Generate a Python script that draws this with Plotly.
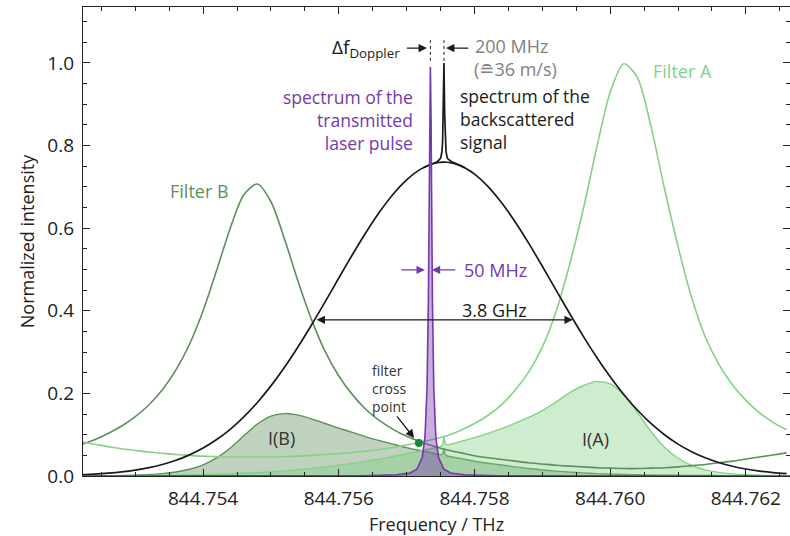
import plotly.graph_objects as go

# ---------------- data ----------------
freq = [844.7522, 844.7524, 844.7526, 844.7528, 844.7530, 844.7532, 844.7534, 844.7536, 844.7538,
        844.7540, 844.7542, 844.7544, 844.7546, 844.7548, 844.7550, 844.7552, 844.7554, 844.7556,
        844.7558, 844.7560, 844.7562, 844.7564, 844.7566, 844.7568, 844.7570, 844.7572, 844.7574,
        844.7576, 844.7578, 844.7580, 844.7582, 844.7584, 844.7586, 844.7588, 844.7590, 844.7592,
        844.7594, 844.7596, 844.7598, 844.7600, 844.7602, 844.7604, 844.7606, 844.7608, 844.7610,
        844.7612, 844.7614, 844.7616, 844.7618, 844.7620, 844.7622, 844.7624, 844.7626]

backscatter = [0.0031, 0.0047, 0.0069, 0.0100, 0.0143, 0.0201, 0.0279, 0.0380, 0.0511, 0.0676,
               0.0882, 0.1131, 0.1430, 0.1781, 0.2182, 0.2633, 0.3130, 0.3662, 0.4222, 0.4793,
               0.5357, 0.5895, 0.6390, 0.6822, 0.7171, 0.7424, 0.7567, 0.7596, 0.7509, 0.7310,
               0.7008, 0.6616, 0.6150, 0.5632, 0.5077, 0.4508, 0.3941, 0.3393, 0.2876, 0.2401,
               0.1973, 0.1597, 0.1272, 0.0999, 0.0772, 0.0588, 0.0440, 0.0326, 0.0237, 0.0170,
               0.0120, 0.0083, 0.0057]

filter_a = [0.083, 0.077, 0.071, 0.066, 0.062, 0.058, 0.055, 0.052, 0.050, 0.048,
            0.047, 0.046, 0.046, 0.046, 0.046, 0.047, 0.048, 0.050, 0.052, 0.054,
            0.057, 0.060, 0.064, 0.069, 0.075, 0.082, 0.089, 0.098, 0.111, 0.127,
            0.147, 0.173, 0.208, 0.252, 0.312, 0.397, 0.511, 0.644, 0.794, 0.929,
            0.998, 0.965, 0.847, 0.696, 0.556, 0.432, 0.337, 0.271, 0.221, 0.183,
            0.153, 0.130, 0.112]

filter_b = [0.076, 0.088, 0.103, 0.121, 0.144, 0.172, 0.209, 0.257, 0.319, 0.400,
            0.498, 0.600, 0.681, 0.707, 0.664, 0.574, 0.471, 0.378, 0.301, 0.242,
            0.197, 0.161, 0.134, 0.113, 0.096, 0.083, 0.072, 0.063, 0.056, 0.049,
            0.044, 0.040, 0.036, 0.032, 0.029, 0.026, 0.024, 0.022, 0.020, 0.019,
            0.018, 0.018, 0.019, 0.020, 0.022, 0.025, 0.028, 0.032, 0.036, 0.041,
            0.046, 0.051, 0.056]

intensity_a = [0.0003, 0.0004, 0.0005, 0.0007, 0.0009, 0.0012, 0.0015, 0.0020, 0.0026, 0.0032,
               0.0041, 0.0052, 0.0066, 0.0082, 0.0100, 0.0124, 0.0150, 0.0183, 0.0220, 0.0259,
               0.0305, 0.0354, 0.0409, 0.0471, 0.0538, 0.0609, 0.0673, 0.0744, 0.0834, 0.0928,
               0.1030, 0.1145, 0.1279, 0.1419, 0.1584, 0.1790, 0.2014, 0.2185, 0.2284, 0.2231,
               0.1969, 0.1541, 0.1077, 0.0695, 0.0429, 0.0254, 0.0148, 0.0088, 0.0052, 0.0031,
               0.0018, 0.0011, 0.0006]

intensity_b = [0.0002, 0.0004, 0.0007, 0.0012, 0.0021, 0.0035, 0.0058, 0.0098, 0.0163, 0.0270,
               0.0439, 0.0679, 0.0974, 0.1259, 0.1449, 0.1511, 0.1474, 0.1384, 0.1271, 0.1160,
               0.1055, 0.0949, 0.0856, 0.0771, 0.0688, 0.0616, 0.0545, 0.0479, 0.0421, 0.0358,
               0.0308, 0.0265, 0.0221, 0.0180, 0.0147, 0.0117, 0.0095, 0.0075, 0.0058, 0.0046,
               0.0036, 0.0029, 0.0024, 0.0020, 0.0017, 0.0015, 0.0012, 0.0010, 0.0009, 0.0007,
               0.0006, 0.0004, 0.0003]

# narrow Mie peak of the backscattered signal (shifted by 200 MHz)
spike_freq = [844.75725, 844.75735, 844.75745, 844.75750, 844.75752, 844.75753, 844.75754,
              844.75755, 844.75756, 844.75757, 844.75758, 844.75760, 844.75765, 844.75775,
              844.75785]
spike_total = [0.747, 0.755, 0.761, 0.769, 0.785, 0.810, 0.880, 1.000, 0.880, 0.810, 0.785,
               0.769, 0.762, 0.755, 0.747]
spike_ia = [0.0626, 0.0659, 0.0695, 0.0719, 0.0741, 0.0769, 0.0839, 0.0958, 0.0847, 0.0783,
            0.0762, 0.0754, 0.0772, 0.0814, 0.0859]
spike_ib = [0.0600, 0.0565, 0.0531, 0.0519, 0.0523, 0.0536, 0.0578, 0.0653, 0.0570, 0.0522,
            0.0502, 0.0484, 0.0467, 0.0436, 0.0406]

# transmitted laser pulse
laser_freq = [844.7522, 844.75535, 844.75635, 844.75685, 844.75705, 844.75715, 844.75723, 844.75727,
              844.75730, 844.75732, 844.75733, 844.75734, 844.75735, 844.75736, 844.75737, 844.75738,
              844.75740, 844.75743, 844.75747, 844.75755, 844.75765, 844.75785, 844.75835, 844.75935,
              844.7627]
laser_vals = [0.0, 0.0002, 0.0007, 0.0027, 0.0074, 0.0164, 0.0444, 0.0946, 0.211, 0.425, 0.622,
              0.862, 0.99, 0.862, 0.622, 0.425, 0.211, 0.0946, 0.0444, 0.0164, 0.0074, 0.0027,
              0.0007, 0.0002, 0.0]

cross_freq = [844.75718]
cross_val = [0.080]

x_ticks = [844.754, 844.756, 844.758, 844.760, 844.762]
y_ticks = [0.0, 0.2, 0.4, 0.6, 0.8, 1.0]

# ---------------- styles ----------------
C_A = '#85d185'
C_B = '#5c8f5c'
C_PURPLE = '#7638ad'
C_BLACK = '#1a1a1a'
C_GRAY = '#808080'
FONT = 'Open Sans, Noto Sans, DejaVu Sans, sans-serif'
X0, X1 = 844.75223, 844.76265
Y0, Y1 = 0.0, 1.1355


def merge(grid_x, grid_y, sx, sy):
    xs = [f for f in grid_x if f < sx[0]] + list(sx) + [f for f in grid_x if f > sx[-1]]
    ys = [v for f, v in zip(grid_x, grid_y) if f < sx[0]] + list(sy) + \
         [v for f, v in zip(grid_x, grid_y) if f > sx[-1]]
    return xs, ys


ia_x, ia_y = merge(freq, intensity_a, spike_freq, spike_ia)
ib_x, ib_y = merge(freq, intensity_b, spike_freq, spike_ib)

fig = go.Figure()
fig.add_trace(go.Scatter(x=ib_x, y=ib_y, mode='lines', fill='tozeroy',
                         fillcolor='rgba(92,143,92,0.40)',
                         line=dict(color=C_B, width=1.4, shape='spline', smoothing=0.8)))
fig.add_trace(go.Scatter(x=ia_x, y=ia_y, mode='lines', fill='tozeroy',
                         fillcolor='rgba(125,205,125,0.38)',
                         line=dict(color=C_A, width=1.4, shape='spline', smoothing=0.8)))
fig.add_trace(go.Scatter(x=freq, y=filter_b, mode='lines',
                         line=dict(color=C_B, width=1.6, shape='spline', smoothing=0.8)))
fig.add_trace(go.Scatter(x=freq, y=filter_a, mode='lines',
                         line=dict(color=C_A, width=1.6, shape='spline', smoothing=0.8)))
fig.add_trace(go.Scatter(x=freq, y=backscatter, mode='lines',
                         line=dict(color=C_BLACK, width=1.7, shape='spline', smoothing=0.8)))
fig.add_trace(go.Scatter(x=spike_freq, y=spike_total, mode='lines',
                         line=dict(color=C_BLACK, width=1.7)))
fig.add_trace(go.Scatter(x=laser_freq, y=laser_vals, mode='lines', fill='tozeroy',
                         fillcolor='rgba(118,56,173,0.40)',
                         line=dict(color=C_PURPLE, width=1.6)))
fig.add_trace(go.Scatter(x=cross_freq, y=cross_val, mode='markers', yaxis='y2',
                         marker=dict(color='#16893a', size=8)))

ann = []


def arrow(x, y, ax, ay, color=C_BLACK, both=False):
    ann.append(dict(x=x, y=y, ax=ax, ay=ay, xref='x', yref='y', axref='x', ayref='y',
                    text='', showarrow=True, arrowhead=2, arrowsize=1.3, arrowwidth=1.3,
                    arrowcolor=color, arrowside='end+start' if both else 'end',
                    startarrowhead=2, startarrowsize=1.3))


def label(x, y, text, color=C_BLACK, size=18, xanchor='center', align='center'):
    ann.append(dict(x=x, y=y, xref='x', yref='y', text=text, showarrow=False,
                    xanchor=xanchor, yanchor='middle', align=align,
                    font=dict(family=FONT, size=size, color=color)))


label(844.75394, 0.690, 'Filter B', C_B)
label(844.76107, 0.980, 'Filter A', C_A)
label(844.75712, 0.862, 'spectrum of the<br>transmitted<br>laser pulse', C_PURPLE,
      size=17.5, xanchor='right', align='right')
label(844.75776, 0.864, 'spectrum of the<br>backscattered<br>signal', C_BLACK,
      size=17.5, xanchor='left', align='left')
label(844.75693, 1.036, 'Δf<sub>Doppler</sub>', C_BLACK, size=19, xanchor='right')
label(844.75798, 1.041, '200 MHz', C_GRAY, xanchor='left')
label(844.75796, 0.985, '(≘36 m/s)', C_GRAY, xanchor='left')
label(844.75782, 0.499, '50 MHz', C_PURPLE, xanchor='left')
label(844.75830, 0.402, '3.8 GHz', C_BLACK)
label(844.75646, 0.213, 'filter<br>cross<br>point', '#333333', size=14,
      xanchor='left', align='left')
label(844.75515, 0.092, 'I(B)', '#333333')
label(844.75978, 0.090, 'I(A)', '#333333')

arrow(844.75730, 1.036, 844.75698, 1.036)
arrow(844.75758, 1.036, 844.75793, 1.036)
arrow(844.75727, 0.499, 844.75690, 0.499, C_PURPLE)
arrow(844.75737, 0.499, 844.75774, 0.499, C_PURPLE)
arrow(844.75945, 0.378, 844.75565, 0.378, both=True)
arrow(844.75711, 0.092, 844.75684, 0.148)

shapes = [
    dict(type='line', xref='x', yref='y', x0=844.75735, x1=844.75735, y0=1.005, y1=1.055,
         line=dict(color=C_BLACK, width=1, dash='dot')),
    dict(type='line', xref='x', yref='y', x0=844.75755, x1=844.75755, y0=1.005, y1=1.055,
         line=dict(color=C_BLACK, width=1, dash='dot')),
]

axis_common = dict(showgrid=False, zeroline=False, ticks='inside', tickcolor='#222',
                   tickwidth=1.3, ticklen=7)

fig.update_layout(
    width=790, height=536,
    margin=dict(l=83, r=0, t=7, b=60),
    plot_bgcolor='white', paper_bgcolor='white',
    showlegend=False,
    font=dict(family=FONT, size=19, color='#222222'),
    annotations=ann, shapes=shapes,
    xaxis=dict(range=[X0, X1], tickvals=x_ticks, ticktext=[f'{v:.3f}' for v in x_ticks],
               showline=True, linecolor='#222', linewidth=1.3, mirror='ticks',
               minor=dict(dtick=0.0005, tick0=844.754, ticks='inside', ticklen=4,
                          tickcolor='#222', tickwidth=1.1),
               ticklabelstandoff=5, tickfont=dict(size=19),
               title=dict(text='Frequency / THz', standoff=10,
                          font=dict(family=FONT, size=18)),
               **axis_common),
    yaxis=dict(range=[Y0, Y1], tickvals=y_ticks, ticktext=[f'{v:.1f}' for v in y_ticks],
               showline=True, linecolor='#222', linewidth=1.3,
               minor=dict(dtick=0.05, tick0=0, ticks='inside', ticklen=4,
                          tickcolor='#222', tickwidth=1.1),
               ticklabelstandoff=4, tickfont=dict(size=19),
               title=dict(text='Normalized intensity', standoff=8,
                          font=dict(family=FONT, size=18)),
               **axis_common),
    yaxis2=dict(range=[Y0, Y1], overlaying='y', side='right', tickvals=y_ticks,
                showticklabels=False, showline=False,
                minor=dict(dtick=0.05, tick0=0, ticks='inside', ticklen=4,
                           tickcolor='#222', tickwidth=1.1),
                **axis_common),
)

fig.write_html('out.html')
